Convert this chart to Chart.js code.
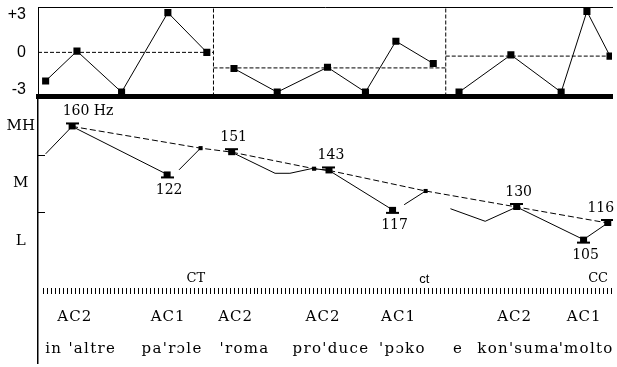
<!DOCTYPE html>
<html>
<head>
<meta charset="utf-8">
<script src="https://cdn.jsdelivr.net/npm/chart.js@4.4.1/dist/chart.umd.min.js"></script>
<style>
    html, body { margin: 0; padding: 0; background: #fff; }
    #wrap { position: relative; width: 617px; height: 367px; overflow: hidden; }
    #wrap canvas { position: absolute; left: 0; top: 0; }
</style>
</head>
<body>
<div id="wrap">
    <canvas id="semiChart" width="617" height="367"></canvas>
    <canvas id="pitchChart" width="617" height="367"></canvas>
</div>
<script>
// top panel: semitone deviation per intonation phrase (x = time units)
var phraseSemiX = [
    [7.7, 39.3, 84.3, 131, 170.3],
    [197.7, 241.3, 292, 330.3, 361, 398.7],
    [424.7, 477, 527.7, 553.7, 577]
];
var phraseSemiY = [
    [-2.3, 0.1, -3.2, 3.2, 0.0],
    [-1.3, -3.2, -1.2, -3.2, 0.9, -0.9],
    [-3.2, -0.2, -3.2, 3.3, -0.3]
];
var phraseRef = [0, -1.25, -0.3];
var phraseBounds = [0, 177, 411.3, 579];
var semiTicks = [-3, 0, 3];

// bottom panel: stylised f0 contour (levels L=1, M=2, MH=3), null = break
var f0X =     [7.7, 34.3, 130, 136, 142, 163.7, 180, 195, 238.7, 253.7, 275, 278, 293, 357, 363, 368.7, 390.3, 400, 415.3, 450.3, 482, 549.3, 573.7];
var f0Level = [2.52, 3.0, 2.16, null, 2.24, 2.62, null, 2.55, 2.18, 2.18, 2.26, 2.26, 2.23, 1.54, null, 1.63, 1.87, null, 1.56, 1.34, 1.59, 1.02, 1.31];
var f0Hz =    [null, 160, 122, null, null, null, null, 151, null, null, null, null, 143, 117, null, null, null, null, null, null, 130, 105, 116];
var f0Mark =  ['', 'H', 'L', '', '', 's', '', 'H', '', '', '', 's', 'H', 'L', '', '', 's', '', '', '', 'H', 'L', 'H'];

// declination (top) line
var declX = [34.3, 163.7, 195, 278, 293, 390.3, 482, 573.7];
var declLevel = [3.0, 2.62, 2.55, 2.26, 2.23, 1.87, 1.59, 1.31];

var levelNames = ['L', 'M', 'MH'];
var levelValues = [1, 2, 3];
var minorLevels = [1.5, 2.5];

var boundaryLabels = ['CT', 'ct', 'CC'];
var boundaryX = [159, 389, 564];
var accentLabels = ['AC2', 'AC1', 'AC2', 'AC2', 'AC1', 'AC2', 'AC1'];
var accentX = [37, 131, 199, 287, 363, 480, 550];
var words = ["in 'altre", "pa'r\u0254le", "'roma", "pro'duce", "'p\u0254ko", "e", "kon'suma", "'molto"];
var wordX = [43, 135, 208, 295, 367, 423, 484, 552];

var serif = "'DejaVu Serif', serif";

function makeMarker(peak) {
    var c = document.createElement('canvas');
    c.width = 13;
    c.height = 12;
    var g = c.getContext('2d');
    g.fillStyle = '#000';
    if (peak) {
        g.fillRect(0, 2, 13, 2);
        g.fillRect(3, 4, 7, 5);
    } else {
        g.fillRect(3, 3, 7, 5);
        g.fillRect(0, 8, 13, 2);
    }
    return c;
}
var peakMark = makeMarker(true);
var valleyMark = makeMarker(false);

// ---------- top chart ----------
var semiDatasets = [];
phraseSemiX.forEach(function (xs, p) {
    semiDatasets.push({
        data: xs.map(function (x, i) { return { x: x, y: phraseSemiY[p][i] }; }),
        borderColor: '#000',
        borderWidth: 1,
        pointStyle: 'rect',
        pointRadius: 5,
        pointBackgroundColor: '#000',
        pointBorderWidth: 0
    });
    semiDatasets.push({
        data: [{ x: phraseBounds[p], y: phraseRef[p] }, { x: phraseBounds[p + 1], y: phraseRef[p] }],
        borderColor: '#000',
        borderWidth: 1,
        borderDash: [4, 2],
        pointRadius: 0
    });
});
for (var b = 1; b < phraseBounds.length - 1; b++) {
    semiDatasets.push({
        data: [{ x: phraseBounds[b], y: -3.55 }, { x: phraseBounds[b], y: 3.65 }],
        borderColor: '#000',
        borderWidth: 1,
        borderDash: [4, 2],
        pointRadius: 0
    });
}

new Chart(document.getElementById('semiChart').getContext('2d'), {
    type: 'line',
    data: { datasets: semiDatasets },
    options: {
        responsive: false,
        animation: false,
        devicePixelRatio: 1,
        layout: { padding: { top: 7, bottom: 270.5, left: 0, right: 0 } },
        plugins: { legend: { display: false }, tooltip: { enabled: false } },
        scales: {
            x: {
                type: 'linear', position: 'top', min: 0, max: 579,
                ticks: { display: false },
                grid: { drawOnChartArea: false, drawTicks: false },
                border: { color: '#000', width: 1 },
                afterFit: function (s) { s.height = 0; }
            },
            x2: {
                type: 'linear', position: 'bottom', min: 0, max: 579,
                ticks: { display: false },
                grid: { drawOnChartArea: false, drawTicks: false },
                border: { color: '#000', width: 5 },
                afterFit: function (s) { s.height = 0; }
            },
            y: {
                min: -3.55, max: 3.65,
                afterBuildTicks: function (s) { s.ticks = semiTicks.map(function (v) { return { value: v }; }); },
                afterFit: function (s) { s.width = 38; s.paddingTop = 0; s.paddingBottom = 0; },
                ticks: {
                    color: '#000',
                    padding: 12,
                    font: { family: "'Liberation Sans', Arial, sans-serif", size: 16 },
                    callback: function (v) { return v > 0 ? '+' + v : String(v); }
                },
                grid: { drawOnChartArea: false, drawTicks: false },
                border: { color: '#000', width: 1 }
            }
        }
    }
});

// ---------- bottom chart ----------
var annotate = {
    id: 'annotate',
    afterDatasetsDraw: function (chart) {
        var ctx = chart.ctx;
        var xs = chart.scales.x, ys = chart.scales.y, area = chart.chartArea;
        var pts = chart.getDatasetMeta(0).data;
        ctx.save();
        ctx.fillStyle = '#000';
        ctx.strokeStyle = '#000';
        ctx.textAlign = 'center';
        ctx.textBaseline = 'middle';
        ctx.font = '14px ' + serif;

        // Hz values
        var firstHz = true;
        f0Hz.forEach(function (hz, i) {
            if (hz === null) return;
            var p = pts[i];
            var dy = f0Mark[i] === 'L' ? 16 : -15;
            var txt = String(hz);
            var dx = 2;
            if (firstHz) { txt += ' Hz'; dx = 16; firstHz = false; }
            if (i === f0Hz.length - 1) dx = -7;
            ctx.fillText(txt, p.x + dx, p.y + dy);
        });

        // minor ticks on level axis
        ctx.lineWidth = 1;
        minorLevels.forEach(function (v) {
            var y = Math.round(ys.getPixelForValue(v)) + 0.5;
            ctx.beginPath();
            ctx.moveTo(area.left, y);
            ctx.lineTo(area.left + 7, y);
            ctx.stroke();
        });

        // boundary tones (lowercase one is set in sans in the original)
        boundaryLabels.forEach(function (t, i) {
            ctx.font = t === t.toLowerCase() ? "13px 'Liberation Sans', sans-serif" : '13px ' + serif;
            ctx.fillText(t, xs.getPixelForValue(boundaryX[i]), 279);
        });

        // syllable tick row
        for (var t = 5; t <= 579; t += 4) {
            var x = Math.round(xs.getPixelForValue(t)) + 0.5;
            ctx.beginPath();
            ctx.moveTo(x, 288);
            ctx.lineTo(x, 294);
            ctx.stroke();
        }

        // accents
        ctx.font = '15px ' + serif;
        ctx.letterSpacing = '1px';
        accentLabels.forEach(function (t, i) {
            ctx.fillText(t, xs.getPixelForValue(accentX[i]), 317);
        });

        // words
        ctx.letterSpacing = '1.3px';
        words.forEach(function (t, i) {
            ctx.fillText(t, xs.getPixelForValue(wordX[i]), 349);
        });
        ctx.restore();
    }
};

new Chart(document.getElementById('pitchChart').getContext('2d'), {
    type: 'line',
    data: {
        datasets: [{
            data: f0X.map(function (x, i) { return { x: x, y: f0Level[i] }; }),
            borderColor: '#000',
            borderWidth: 1,
            spanGaps: false,
            pointBackgroundColor: '#000',
            pointBorderWidth: 0,
            pointStyle: f0Mark.map(function (m) { return m === 'H' ? peakMark : (m === 'L' ? valleyMark : 'rect'); }),
            pointRadius: f0Mark.map(function (m) { return m === '' ? 0 : (m === 's' ? 2.9 : 4); })
        }, {
            data: declX.map(function (x, i) { return { x: x, y: declLevel[i] }; }),
            borderColor: '#000',
            borderWidth: 1,
            borderDash: [6, 3],
            pointRadius: 0
        }]
    },
    options: {
        responsive: false,
        animation: false,
        devicePixelRatio: 1,
        layout: { padding: { top: 99, bottom: 0, left: 0, right: 0 } },
        plugins: { legend: { display: false }, tooltip: { enabled: false } },
        scales: {
            x: { type: 'linear', min: 0, max: 579, display: false },
            y: {
                min: -1.14, max: 3.48,
                afterBuildTicks: function (s) { s.ticks = levelValues.map(function (v) { return { value: v }; }); },
                afterFit: function (s) { s.width = 38; s.paddingTop = 0; s.paddingBottom = 0; },
                ticks: {
                    color: '#000',
                    padding: 3,
                    crossAlign: 'center',
                    font: { family: serif, size: 15 },
                    callback: function (v) { return levelNames[levelValues.indexOf(v)]; }
                },
                grid: { drawOnChartArea: false, drawTicks: false },
                border: { color: '#000', width: 1.5 }
            }
        }
    },
    plugins: [annotate]
});
</script>
</body>
</html>
